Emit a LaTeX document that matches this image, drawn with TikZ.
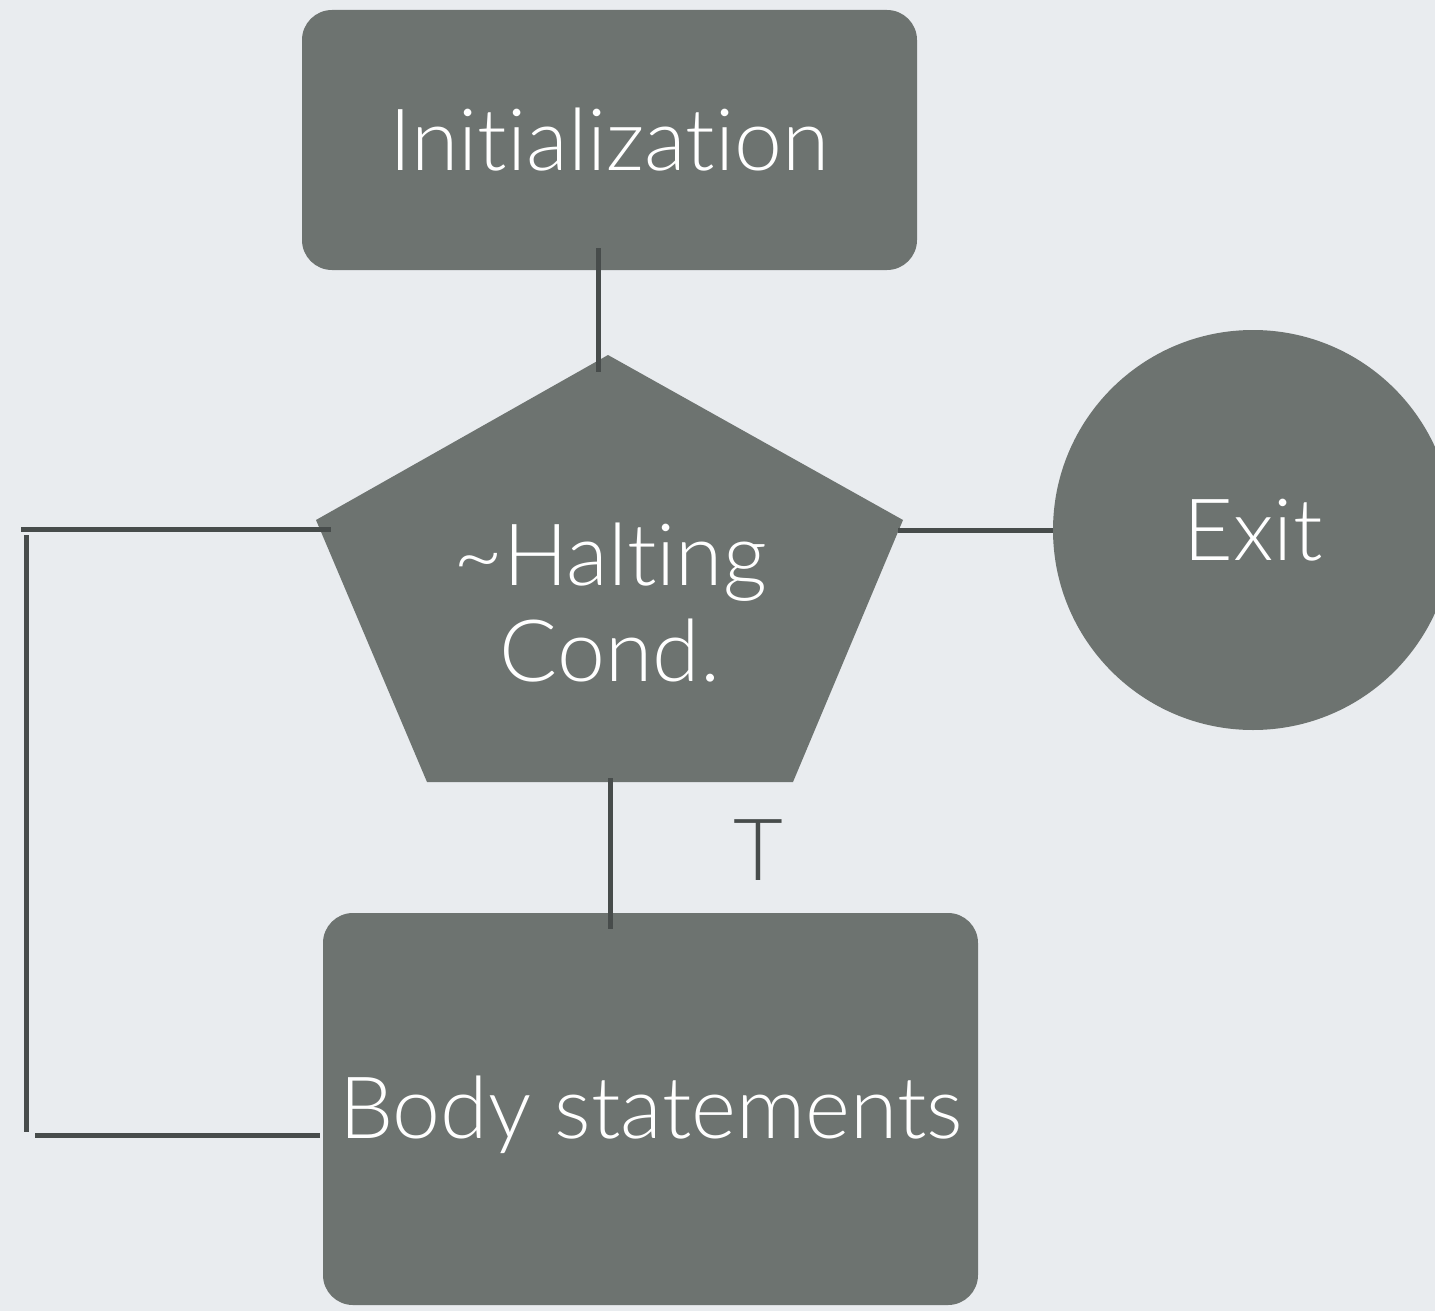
\documentclass[tikz,border=0pt]{standalone}
\usepackage{fontspec}
\setmainfont{Lato}[UprightFont=* Light,Ligatures={NoCommon,NoContextual}]
\begin{document}
\begin{tikzpicture}[x=1pt,y=-1pt,
  shapefill/.style={fill=boxgray,draw=none},
  roundbox/.style={shapefill,rectangle,rounded corners=30pt,inner sep=0pt},
  label text/.style={text=white,font=\fontsize{86}{98}\selectfont,align=center},
  wire/.style={draw=wiregray,line width=5pt}]
\definecolor{boxgray}{HTML}{6D7370}
\definecolor{wiregray}{HTML}{474C4B}
\definecolor{bg}{HTML}{E9ECEF}
% canvas
\fill[bg] (0,0) rectangle (1435,1311);
\useasboundingbox (0,0) rectangle (1435,1311);
% boxes
\node[roundbox,minimum width=615pt,minimum height=260pt] (init) at (609.5,140) {};
\node[label text] at (init.center) {Initialization};
\node[roundbox,minimum width=655pt,minimum height=392pt] (body) at (650.5,1109) {};
\node[label text] (bodytext) at (651,1115) {Body statements};
% decision pentagon
\fill[boxgray] (608,355) -- (903,520) -- (793,782) -- (427,782) -- (316,520) -- cycle;
\node[label text,font=\fontsize{86}{96}\selectfont] (cond) at (610,603) {\char"7E Halting\\Cond.};
% exit circle
\node[shapefill,circle,minimum size=400pt,inner sep=0pt] (exit) at (1253,530) {};
\node[label text] at (exit.center) {Exit};
% connector end points
\coordinate (a1) at (598,248);
\coordinate (a2) at (598,372);
\coordinate (b1) at (610,778);
\coordinate (b2) at (610,929);
\coordinate (c1) at (898,530);
\coordinate (c2) at (1053,530);
\coordinate (l1) at (21,529);
\coordinate (l2) at (331,529);
\coordinate (v1) at (26,535);
\coordinate (v2) at (26,1132);
\coordinate (d1) at (35,1135);
\coordinate (d2) at (320,1135);
% connectors
\draw[wire] (a1) -- (a2);
\draw[wire] (b1) -- (b2);
\draw[wire] (c1) -- (c2);
\draw[wire] (l1) -- (l2);
\draw[wire] (v1) -- (v2);
\draw[wire] (d1) -- (d2);
\node[text=wiregray,font=\fontsize{86}{98}\selectfont] (tlabel) at (758,850) {T};
\end{tikzpicture}
\end{document}
